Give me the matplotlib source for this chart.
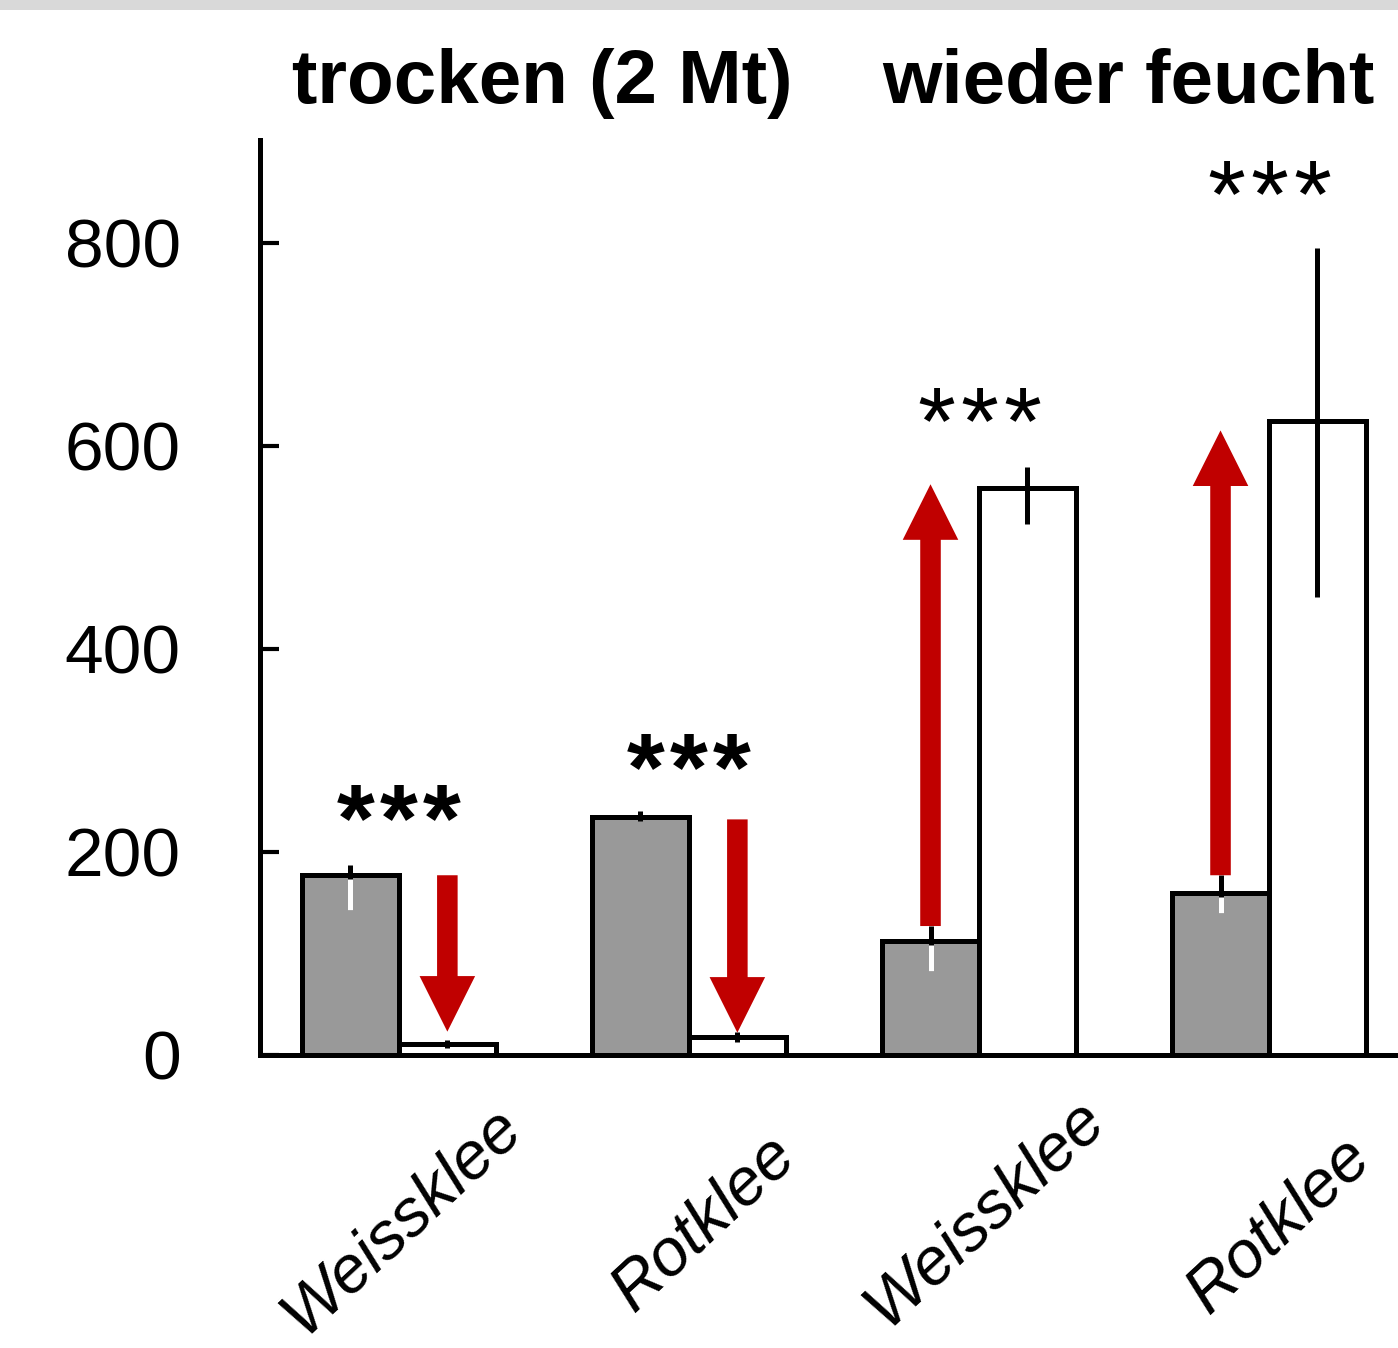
import numpy as np
import matplotlib.pyplot as plt
from matplotlib.patches import Rectangle

plt.rcParams['font.family'] = ['Liberation Sans', 'DejaVu Sans']

# Kleearten, je zwei Balken: vorher (grau) und nachher (weiss)
klee = ['Weissklee', 'Rotklee', 'Weissklee', 'Rotklee']
vorher = [177, 234, 112, 160]
nachher = [11, 18, 558, 624]
vorher_err_oben = [10, 6, 15, 17]
vorher_err_unten = [34, 4, 29, 20]
nachher_err_oben = [4, 5, 21, 171]
nachher_err_unten = [4, 5, 35, 173]

# rote Pfeile (von -> bis) und Signifikanzsterne
pfeil_von = [177, 232, 127, 177]
pfeil_bis = [23, 22, 562, 615]
sterne = [3, 3, 3, 3]
sterne_y = [246, 296, 637, 860]

titel = ['trocken (2 Mt)', 'wieder feucht']

grau = '#999999'
rot = '#c00000'
lw = 3.6

fig = plt.figure(figsize=(13.98, 13.48), dpi=100)
ax = fig.add_axes([260/1398, 1 - 1055/1348, 1 - 260/1398, (1055 - 140)/1348])

x = np.arange(len(klee))
w = 0.334
xg = x - w/2
xw = x + w/2

ax.bar(xg, vorher, w, color=grau, edgecolor='black', linewidth=lw, zorder=2)
ax.bar(xw, nachher, w, color='white', edgecolor='black', linewidth=lw, zorder=2)

# Fehlerbalken: schwarz, innerhalb der grauen Balken weiss
ax.errorbar(xg, vorher, yerr=[vorher_err_unten, vorher_err_oben], fmt='none',
            ecolor='black', elinewidth=lw, capsize=0, zorder=3)
ax.vlines(xg, np.array(vorher) - np.array(vorher_err_unten), np.array(vorher) - 4,
          color='white', lw=lw, zorder=4)
ax.errorbar(xw, nachher, yerr=[nachher_err_unten, nachher_err_oben], fmt='none',
            ecolor='black', elinewidth=lw, capsize=0, zorder=3)

# Pfeile: trocken ueber dem weissen Balken, feucht ueber dem grauen
for i in range(len(klee)):
    px = xw[i] if i < 2 else xg[i]
    ax.annotate('', xy=(px, pfeil_bis[i]), xytext=(px, pfeil_von[i]),
                arrowprops=dict(arrowstyle='simple,head_length=1.0,head_width=1.0,tail_width=0.37',
                                mutation_scale=40, color=rot, lw=0,
                                shrinkA=0, shrinkB=0), zorder=5)

# Sterne einzeln setzen, damit sie etwas Abstand haben
fs = 70
for i in range(len(klee)):
    n = sterne[i]
    for k in range(n):
        dx = (k - (n - 1)/2) * 31
        ax.annotate('*', xy=(x[i], sterne_y[i]), xytext=(dx, -0.47*fs),
                    textcoords='offset points', ha='center', va='baseline',
                    fontsize=fs, fontweight='bold' if i < 2 else 'normal', zorder=6)

# schraege Beschriftung unter der Achse
lab_dx = [0.43, 0.38, 0.44, 0.36]
lab_y = [-74, -102, -66, -104]
for i in range(len(klee)):
    ax.text(x[i] + lab_dx[i], lab_y[i], klee[i], rotation=43, rotation_mode='anchor',
            ha='right', va='baseline', fontsize=48, style='italic')

ax.set_xlim(-0.479, 3.445)
ax.set_ylim(0, 901)
ax.set_xticks([])
ax.set_yticks([0, 200, 400, 600, 800])
ax.tick_params(axis='y', direction='in', length=14, width=3, labelsize=50, pad=57)
for s in ['top', 'right']:
    ax.spines[s].set_visible(False)
for s in ['left', 'bottom']:
    ax.spines[s].set_linewidth(lw)

fig.text(542/1398, 1 - 103/1348, titel[0], ha='center', va='baseline',
         fontsize=55, fontweight='bold')
fig.text(1128/1398, 1 - 103/1348, titel[1], ha='center', va='baseline',
         fontsize=55, fontweight='bold')

# grauer Streifen oben und helle Flaechen hinter den Sternen
fig.add_artist(Rectangle((0, 1 - 10/1348), 1, 10/1348, transform=fig.transFigure,
                         color='#d9d9d9', lw=0, zorder=0))
for bx, by in [(276, 852), (569, 796)]:
    fig.add_artist(Rectangle((bx/1398, 1 - by/1348), 46/1398, 100/1348,
                             transform=fig.transFigure, color='#f5f5f5', lw=0, zorder=0))

fig.savefig('out.png', dpi=100)
